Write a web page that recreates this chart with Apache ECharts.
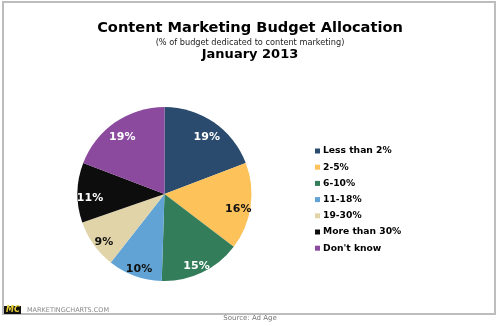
<!DOCTYPE html>
<html>
<head>
<meta charset="utf-8">
<script src="https://cdn.jsdelivr.net/npm/echarts@6/dist/echarts.min.js"></script>
<style>
  html, body { margin: 0; padding: 0; background: #fff; }
  #chart { width: 500px; height: 326px; }
</style>
</head>
<body>
<div id="chart"></div>
<script>
// Share of budget dedicated to content marketing, January 2013
const categories = ['Less than 2%', '2-5%', '6-10%', '11-18%', '19-30%', 'More than 30%', "Don't know"];
const shares = [19, 16, 15, 10, 9, 11, 19];
const sliceColors = ['#2a4a6e', '#fdc35a', '#347d5a', '#62a3d6', '#e1d4a9', '#0d0d0d', '#8c4a9f'];
const labelColors = ['#fff', '#111', '#fff', '#111', '#111', '#fff', '#fff'];

const font = 'Verdana, "DejaVu Sans", sans-serif';
const cx = 164.5, cy = 194, R = 87;

const pieData = categories.map((name, i) => ({
  name,
  value: shares[i],
  itemStyle: { color: sliceColors[i] }
}));

// Transparent ring on top of the pie that carries the percentage labels
const labelData = categories.map((name, i) => ({
  name,
  value: shares[i],
  itemStyle: { color: 'rgba(0,0,0,0)' },
  label: { color: labelColors[i] }
}));

const chart = echarts.init(document.getElementById('chart'), null, { renderer: 'canvas' });
chart.setOption({
  animation: false,
  title: [
    { text: 'Content Marketing Budget Allocation', left: 'center', top: 16,
      textStyle: { fontFamily: font, fontWeight: 'bold', fontSize: 14.6, color: '#000' } },
    { text: '(% of budget dedicated to content marketing)', left: 'center', top: 34,
      textStyle: { fontFamily: font, fontWeight: 'normal', fontSize: 8.2, color: '#222' } },
    { text: 'January 2013', left: 'center', top: 43,
      textStyle: { fontFamily: font, fontWeight: 'bold', fontSize: 13, color: '#000' } }
  ],
  legend: {
    orient: 'vertical',
    left: 310,
    top: 140,
    icon: 'rect',
    itemWidth: 5,
    itemHeight: 5,
    itemGap: 4.2,
    data: categories,
    textStyle: { fontFamily: font, fontWeight: 'bold', fontSize: 9.2, lineHeight: 12, color: '#000', padding: [0, 0, 0, -2] },
    selectedMode: false
  },
  graphic: [
    { type: 'rect', shape: { x: 3, y: 2, width: 492, height: 312 },
      style: { fill: 'none', stroke: '#bdbdbd', lineWidth: 2 }, silent: true },
    { type: 'rect', shape: { x: 4, y: 306, width: 17, height: 8 },
      style: { fill: '#111' }, silent: true },
    { type: 'text', x: 6, y: 306,
      style: { text: 'MC', fill: '#e8d23a', font: 'italic bold 8px ' + font } },
    { type: 'text', x: 27, y: 307,
      style: { text: 'MARKETINGCHARTS.COM', fill: '#888', font: '6.5px ' + font } },
    { type: 'text', x: 250, y: 315,
      style: { text: 'Source: Ad Age', fill: '#777', font: '7px ' + font, textAlign: 'center' } }
  ],
  series: [
    {
      type: 'pie',
      center: [cx, cy],
      radius: [0, R],
      startAngle: 90,
      clockwise: true,
      label: { show: false },
      labelLine: { show: false },
      silent: true,
      data: pieData
    },
    {
      type: 'pie',
      center: [cx, cy + 5],
      radius: [56, R],
      startAngle: 90,
      clockwise: true,
      silent: true,
      legendHoverLink: false,
      label: {
        show: true,
        position: 'inside',
        formatter: '{c}%',
        fontFamily: font,
        fontWeight: 'bold',
        fontSize: 11
      },
      labelLine: { show: false },
      data: labelData
    }
  ]
});
</script>
</body>
</html>
